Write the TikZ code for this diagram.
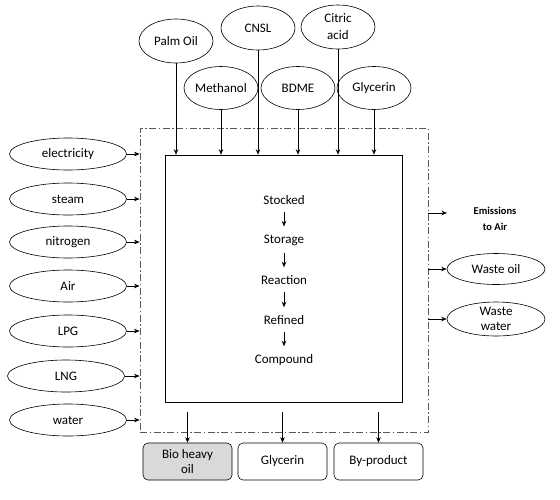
\documentclass[tikz,border=0pt]{standalone}
\usepackage{fontspec}
\setmainfont{Carlito}
\usetikzlibrary{arrows.meta,shapes.geometric}
\begin{document}
\begin{tikzpicture}[x=1pt,y=-1pt,
  font=\fontsize{13}{15}\selectfont,
  arr/.style={-{Stealth[length=5.5pt,width=4.5pt]},line width=0.6pt},
  ell/.style={draw,ellipse,inner sep=0pt,line width=0.6pt,align=center},
  lell/.style={ell,minimum width=117pt,minimum height=32pt},
  tell/.style={ell,minimum width=74pt,minimum height=44pt},
  rbox/.style={draw,rounded corners=5pt,line width=0.6pt,minimum width=89pt,minimum height=37pt,align=center,inner sep=0pt},
  dashdot/.style={draw=black!65,line width=0.8pt,dash pattern=on 7pt off 2.5pt on 1.5pt off 2.5pt},
  step label/.style={inner sep=1pt}
]
\useasboundingbox (0,0) rectangle (560,499);
% frames
\node[dashdot,minimum width=288pt,minimum height=304pt,inner sep=0pt] (outer) at (284,280) {};
\node[draw,line width=0.6pt,minimum width=237pt,minimum height=247pt,inner sep=0pt] (inner) at (283.5,278.5) {};
% top inputs
\node[tell] (palm) at (176,41) {Palm Oil};
\node[tell] (cnsl) at (258,28) {CNSL};
\node[tell,font=\fontsize{13}{17}\selectfont] (citric) at (338,27) {Citric\\acid};
\node[tell,minimum height=43pt] (meth) at (221,88) {Methanol};
\node[tell,minimum height=43pt] (bdme) at (298,88) {BDME};
\node[tell,minimum height=43pt] (glyin) at (374,88) {Glycerin};
\foreach \n in {palm,cnsl,citric,meth,bdme,glyin}
  \draw[arr] (\n.south) -- (\n.south |- inner.north);
% left inputs
\node[lell] (elec) at (68,154) {electricity};
\node[lell] (steam) at (68,199) {steam};
\node[lell] (nitro) at (68,242) {nitrogen};
\node[lell] (air) at (68,286) {Air};
\node[lell] (lpg) at (68,331) {LPG};
\node[lell] (lng) at (66,376) {LNG};
\node[lell] (water) at (68,420) {water};
\foreach \n in {elec,steam,nitro,air,lpg,lng,water}
  \draw[arr] (\n.east) -- (\n.east -| outer.west);
% right outputs
\node[font=\fontsize{10.5}{16}\selectfont\bfseries,align=center] (emis) at (495,219) {Emissions\\to Air};
\coordinate (emisend) at (447,213);
\draw[arr] (emisend -| outer.east) -- (emisend);
\node[ell,minimum width=98pt,minimum height=31pt] (woil) at (496,269) {Waste oil};
\draw[arr] (woil.west -| outer.east) -- (woil.west);
\node[ell,minimum width=98pt,minimum height=34pt,font=\fontsize{13}{15}\selectfont] (wwater) at (496,319) {Waste\\water};
\draw[arr] (wwater.west -| outer.east) -- (wwater.west);
% process chain
\node[step label] (s1) at (284,200) {Stocked};
\node[step label] (s2) at (284,240) {Storage};
\node[step label] (s3) at (284,280) {Reaction};
\node[step label] (s4) at (284,320) {Refined};
\node[step label] (s5) at (284,360) {Compound};
\foreach \a/\b in {s1/s2,s2/s3,s3/s4,s4/s5}
  \draw[arr,shorten <=6pt,shorten >=7pt] (\a) -- (\b);
% bottom outputs
\node[rbox,fill=black!15] (bio) at (187.5,461.5) {Bio heavy\\oil};
\node[rbox] (gly) at (282.5,461.5) {Glycerin};
\node[rbox] (byp) at (378.5,461.5) {By-product};
\foreach \n in {bio,gly,byp}
  \draw[arr] ([yshift=-10pt]\n.north |- inner.south) -- (\n.north);
\end{tikzpicture}
\end{document}
